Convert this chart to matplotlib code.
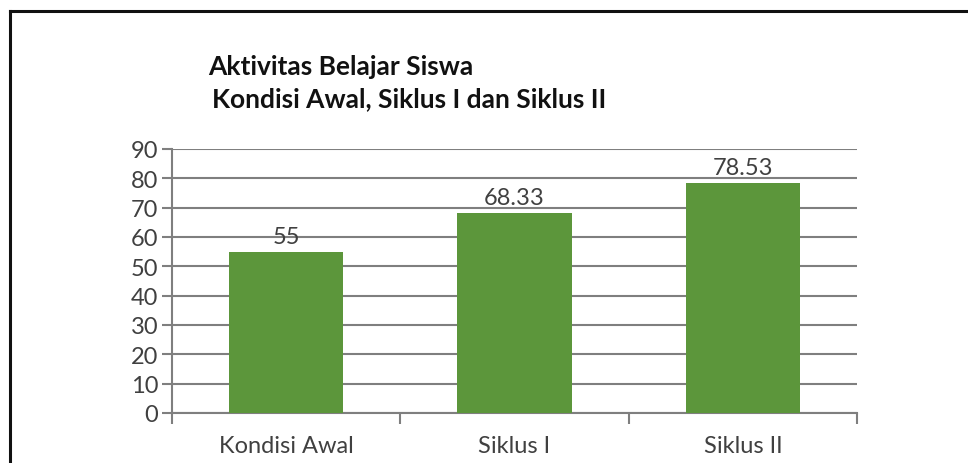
import matplotlib.pyplot as plt
from matplotlib.lines import Line2D

categories = ['Kondisi Awal', 'Siklus I', 'Siklus II']
values = [55, 68.33, 78.53]
value_labels = ['55', '68.33', '78.53']
yticks = [0, 10, 20, 30, 40, 50, 60, 70, 80, 90]

plt.rcParams['font.family'] = ['Lato', 'DejaVu Sans']

fig = plt.figure(figsize=(9.68, 4.64), dpi=100)
ax = fig.add_axes([172 / 968, 50 / 464, 685 / 968, 264 / 464])

x = range(len(categories))
bars = ax.bar(x, values, width=0.5, color='#5c963b', zorder=3)

# value labels above bars
for b, lab in zip(bars, value_labels):
    ax.annotate(lab, (b.get_x() + b.get_width() / 2, b.get_height()),
                xytext=(0, 3.5), textcoords='offset points',
                ha='center', va='bottom', fontsize=17, color='#404040', zorder=4)

ax.set_xlim(-0.5, 2.5)
ax.set_ylim(0, 90)
ax.set_yticks(yticks)
ax.set_xticks(list(x))
ax.set_xticklabels(categories)
ax.set_xticks([-0.5, 0.5, 1.5, 2.5], minor=True)

ax.grid(axis='y', color='#7f7f7f', linewidth=1.5, zorder=0)
for s in ['top', 'right']:
    ax.spines[s].set_visible(False)
for s in ['left', 'bottom']:
    ax.spines[s].set_color('#7f7f7f')
    ax.spines[s].set_linewidth(1.5)

ax.tick_params(axis='y', length=7, width=1.5, color='#7f7f7f', pad=3,
               labelsize=17, labelcolor='#404040')
ax.tick_params(axis='x', which='major', length=0, pad=16,
               labelsize=17, labelcolor='#404040')
ax.tick_params(axis='x', which='minor', length=8, width=1.5, color='#7f7f7f')

fig.text(208 / 968, 1 - 75 / 464, 'Aktivitas Belajar Siswa', fontsize=19,
         fontweight='bold', color='#111111', va='baseline', ha='left')
fig.text(212 / 968, 1 - 107 / 464, 'Kondisi Awal, Siklus I dan Siklus II', fontsize=19,
         fontweight='bold', color='#111111', va='baseline', ha='left')

# frame (top and left edges of the screenshot)
fig.add_artist(Line2D([10 / 968, 1], [1 - 11.5 / 464, 1 - 11.5 / 464],
                      transform=fig.transFigure, color='#111111', linewidth=2.2))
fig.add_artist(Line2D([10 / 968, 10 / 968], [0, 1 - 11.5 / 464],
                      transform=fig.transFigure, color='#111111', linewidth=2.2))

fig.savefig('out.png', dpi=100)
